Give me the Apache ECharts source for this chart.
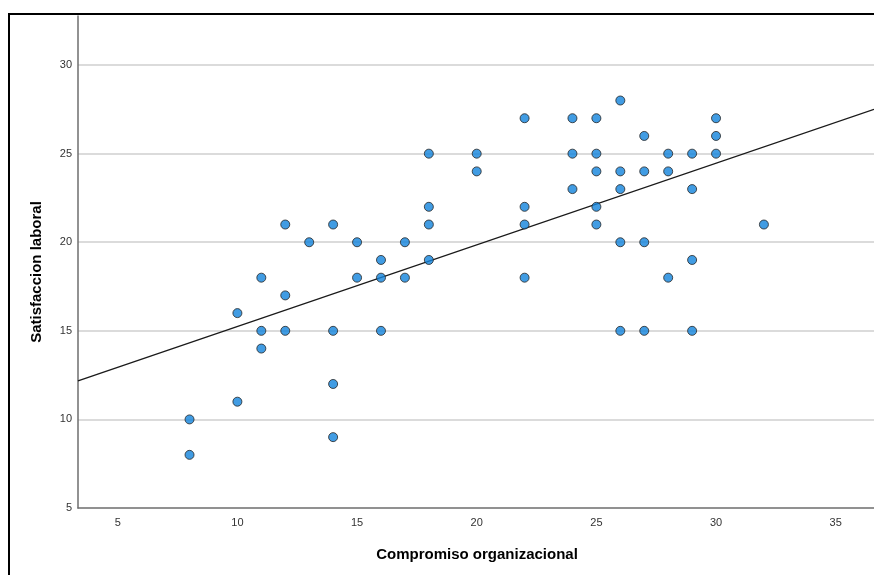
<!DOCTYPE html>
<html>
<head>
<meta charset="utf-8">
<script src="https://cdn.jsdelivr.net/npm/echarts@6/dist/echarts.min.js"></script>
<style>
  html, body { margin: 0; padding: 0; background: #fff; }
  #chart { width: 874px; height: 575px; }
</style>
</head>
<body>
<div id="chart"></div>
<script>
// Compromiso organizacional (x) and Satisfaccion laboral (y), one entry per respondent
const compromiso = [
  8, 8,
  10, 10,
  11, 11, 11,
  12, 12, 12,
  13,
  14, 14, 14, 14,
  15, 15,
  16, 16, 16,
  17, 17,
  18, 18, 18, 18,
  20, 20,
  22, 22, 22, 22,
  24, 24, 24,
  25, 25, 25, 25, 25,
  26, 26, 26, 26, 26,
  27, 27, 27, 27,
  28, 28, 28,
  29, 29, 29, 29,
  30, 30, 30,
  32
];
const satisfaccion = [
  10, 8,
  16, 11,
  18, 15, 14,
  21, 17, 15,
  20,
  21, 15, 12, 9,
  20, 18,
  19, 18, 15,
  20, 18,
  25, 22, 21, 19,
  25, 24,
  27, 22, 21, 18,
  27, 25, 23,
  27, 25, 24, 22, 21,
  28, 24, 23, 20, 15,
  26, 24, 20, 15,
  25, 24, 18,
  25, 23, 19, 15,
  27, 26, 25,
  21
];
const yTicks = [5, 10, 15, 20, 25, 30];
const xRange = [3.34, 36.6];
const yRange = [5, 32.77];

// Least-squares fit line across the visible x range
function linearFit(xs, ys) {
  const n = xs.length;
  const mx = xs.reduce((a, b) => a + b, 0) / n;
  const my = ys.reduce((a, b) => a + b, 0) / n;
  let sxy = 0, sxx = 0;
  for (let i = 0; i < n; i++) {
    sxy += (xs[i] - mx) * (ys[i] - my);
    sxx += (xs[i] - mx) * (xs[i] - mx);
  }
  const slope = sxy / sxx;
  return { slope, intercept: my - slope * mx };
}
const fit = linearFit(compromiso, satisfaccion);
const fitLine = xRange.map(x => [x, fit.intercept + fit.slope * x]);
const points = compromiso.map((x, i) => [x, satisfaccion[i]]);

const chart = echarts.init(document.getElementById('chart'), null, { renderer: 'canvas' });
const font = '"Liberation Sans", Arial, sans-serif';

chart.setOption({
  animation: false,
  backgroundColor: '#ffffff',
  grid: { left: 78, right: 0, top: 16, bottom: 67, containLabel: false },
  xAxis: {
    type: 'value',
    min: xRange[0],
    max: xRange[1],
    splitNumber: 7,
    axisLine: { show: true, lineStyle: { color: '#6e6e6e', width: 1.5 } },
    axisTick: { show: false },
    splitLine: { show: false },
    axisLabel: {
      showMinLabel: false, showMaxLabel: false,
      color: '#333', fontSize: 11, fontFamily: font, margin: 9
    }
  },
  yAxis: {
    type: 'value',
    min: yRange[0],
    max: yRange[1],
    interval: 5,
    axisLine: { show: true, lineStyle: { color: '#6e6e6e', width: 1.5 } },
    axisTick: { show: false },
    splitLine: { show: true, showMinLine: false, showMaxLine: false, lineStyle: { color: '#cfcfcf', width: 1.5 } },
    axisLabel: {
      showMaxLabel: false,
      color: '#333', fontSize: 11, fontFamily: font, margin: 6,
      formatter: v => (yTicks.includes(v) ? String(v) : '')
    }
  },
  graphic: [
    {
      type: 'rect', silent: true, z: 100,
      shape: { x: 9, y: 14, width: 900, height: 600 },
      style: { fill: 'none', stroke: '#000', lineWidth: 2 }
    },
    {
      type: 'text', x: 477, y: 555, z: 100,
      style: {
        text: 'Compromiso organizacional', fontSize: 15, fontWeight: 'bold',
        fontFamily: font, fill: '#000', align: 'center', verticalAlign: 'middle'
      }
    },
    {
      type: 'text', x: 37, y: 272, rotation: Math.PI / 2, z: 100,
      style: {
        text: 'Satisfaccion laboral', fontSize: 15, fontWeight: 'bold',
        fontFamily: font, fill: '#000', align: 'center', verticalAlign: 'middle'
      }
    }
  ],
  series: [
    {
      type: 'line',
      data: fitLine,
      showSymbol: false,
      symbol: 'none',
      lineStyle: { color: '#1a1a1a', width: 1.4 },
      z: 3,
      silent: true
    },
    {
      type: 'scatter',
      data: points,
      symbolSize: 9,
      itemStyle: { color: '#1283dc', borderColor: '#262626', borderWidth: 1 },
      z: 4
    }
  ]
});
</script>
</body>
</html>
